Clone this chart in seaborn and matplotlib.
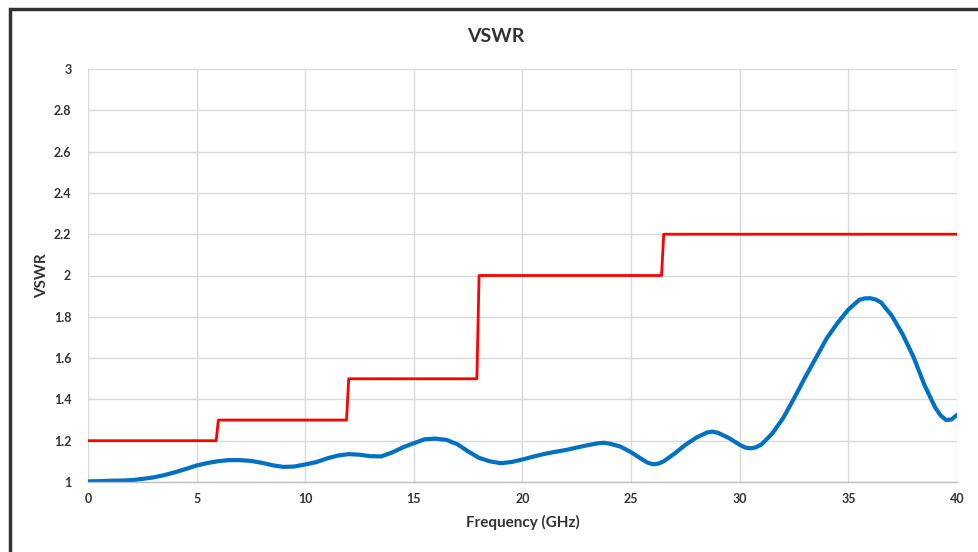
import matplotlib.pyplot as plt
import seaborn as sns
import pandas as pd
from matplotlib.patches import Rectangle

# Data
freq = [0, 0.5, 1, 1.5, 2, 2.5, 3, 3.5, 4, 4.5, 5, 5.5, 6, 6.5, 7, 7.5, 8, 8.5, 9, 9.5,
        10, 10.5, 11, 11.5, 12, 12.5, 13, 13.5, 14, 14.5, 15, 15.5, 16, 16.5, 17, 17.5, 18, 18.5, 19, 19.5,
        20, 20.5, 21, 21.5, 22, 22.5, 23, 23.5, 23.75, 24, 24.5, 25, 25.5, 25.75, 26, 26.25, 26.5, 27, 27.5,
        28, 28.5, 28.75, 29, 29.5, 30, 30.25, 30.5, 30.75, 31, 31.5, 32, 32.5, 33, 33.5, 34, 34.5,
        35, 35.5, 35.75, 36, 36.25, 36.5, 37, 37.5, 38, 38.5, 39, 39.25, 39.5, 39.75, 40]
vswr = [1.003, 1.004, 1.006, 1.007, 1.009, 1.015, 1.022, 1.033, 1.047, 1.063,
        1.080, 1.092, 1.101, 1.106, 1.106, 1.102, 1.093, 1.081, 1.073, 1.075,
        1.085, 1.096, 1.114, 1.128, 1.135, 1.132, 1.125, 1.124, 1.143, 1.168,
        1.188, 1.207, 1.210, 1.204, 1.183, 1.148, 1.117, 1.100, 1.091, 1.097,
        1.109, 1.123, 1.136, 1.146, 1.155, 1.167, 1.178, 1.188, 1.190, 1.186,
        1.172, 1.144, 1.110, 1.094, 1.086, 1.089, 1.100, 1.138, 1.180,
        1.215, 1.240, 1.244, 1.238, 1.213, 1.180, 1.167, 1.163, 1.168, 1.182,
        1.235, 1.310, 1.405, 1.505, 1.600, 1.695, 1.770,
        1.835, 1.882, 1.889, 1.890, 1.884, 1.870, 1.805, 1.715, 1.605, 1.470,
        1.360, 1.322, 1.300, 1.303, 1.325]

spec_freq = [0, 5.9, 6.0, 11.9, 12.0, 17.9, 18.0, 26.4, 26.5, 40]
spec_vswr = [1.2, 1.2, 1.3, 1.3, 1.5, 1.5, 2.0, 2.0, 2.2, 2.2]

x_ticks = [0, 5, 10, 15, 20, 25, 30, 35, 40]
y_ticks = [1, 1.2, 1.4, 1.6, 1.8, 2, 2.2, 2.4, 2.6, 2.8, 3]

meas_df = pd.DataFrame({'Frequency': freq, 'VSWR': vswr})
spec_df = pd.DataFrame({'Frequency': spec_freq, 'VSWR': spec_vswr})

sns.set_style('whitegrid')
plt.rcParams['font.family'] = ['Lato', 'DejaVu Sans']

fig = plt.figure(figsize=(9.79, 5.52), dpi=100)
ax = fig.add_axes([88 / 979, 1 - 482 / 552, (957 - 88) / 979, (482 - 69) / 552])

sns.lineplot(data=spec_df, x='Frequency', y='VSWR', ax=ax, color='#FF0000',
             linewidth=2, sort=False, estimator=None)
sns.lineplot(data=meas_df, x='Frequency', y='VSWR', ax=ax, color='#0070C0',
             linewidth=3, sort=False, estimator=None,
             solid_joinstyle='round', solid_capstyle='round')

ax.set_xlim(0, 40)
ax.set_ylim(1, 3)
ax.set_xticks(x_ticks)
ax.set_yticks(y_ticks)
ax.set_xticklabels([str(t) for t in x_ticks])
ax.set_yticklabels(['%g' % t for t in y_ticks])
ax.grid(True, color='#d9d9d9', linewidth=1)
for side in ['top', 'right', 'left']:
    ax.spines[side].set_visible(False)
ax.spines['bottom'].set_color('#bfbfbf')
ax.spines['bottom'].set_linewidth(1)
ax.tick_params(axis='both', length=0, labelsize=9, labelcolor='#333333')
ax.tick_params(axis='x', pad=8)
ax.tick_params(axis='y', pad=12)
for lbl in ax.get_xticklabels() + ax.get_yticklabels():
    lbl.set_fontweight('bold')

ax.set_xlabel('Frequency (GHz)', fontsize=11, fontweight='bold', color='#333333', labelpad=7)
ax.set_ylabel('VSWR', fontsize=11, fontweight='bold', color='#333333', labelpad=3)

fig.text(496 / 979, 1 - 36 / 552, 'VSWR', ha='center', va='center',
         fontsize=14, fontweight='bold', color='#333333')

# outer frame of the chart
fig.patches.append(Rectangle((10 / 979, -0.2), 1.5, 1 - 8.5 / 552 + 0.2,
                             transform=fig.transFigure, fill=False,
                             edgecolor='#333333', linewidth=2.5))

fig.savefig('out.png', dpi=100)
